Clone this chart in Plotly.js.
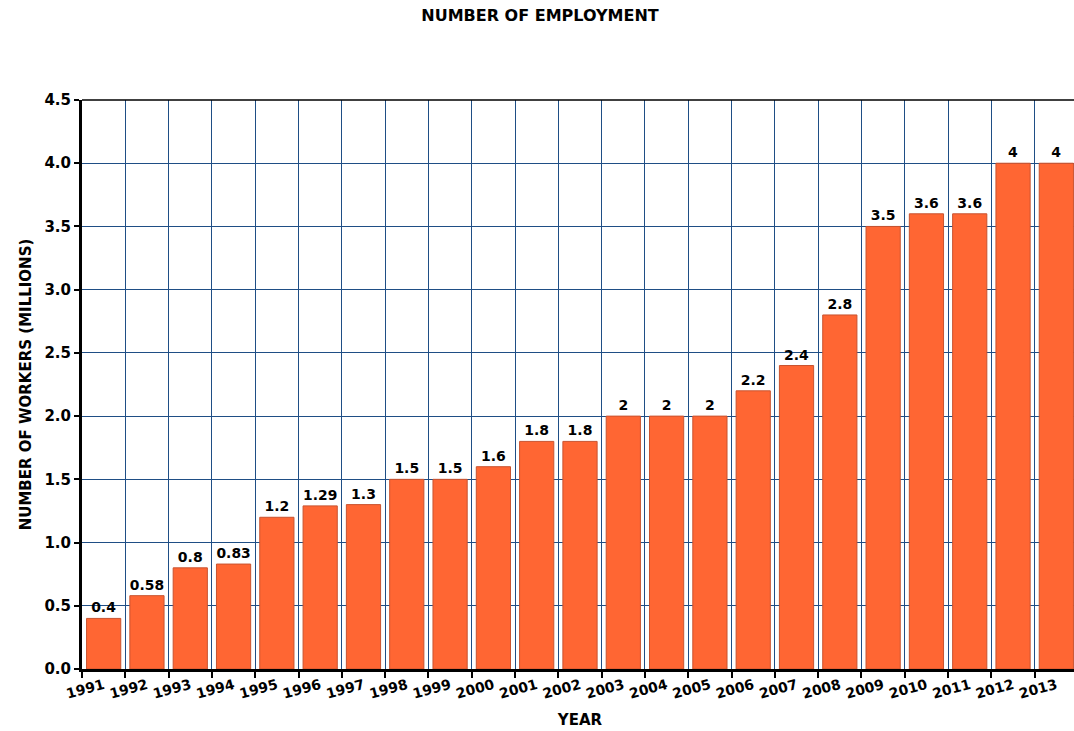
<!DOCTYPE html>
<html>
<head>
<meta charset="utf-8">
<script src="https://cdn.plot.ly/plotly-3.0.1.min.js"></script>
<style>
html,body{margin:0;padding:0;overflow:hidden;background:#fff;}
#chart{width:1080px;height:731px;}
</style>
</head>
<body>
<div id="chart"></div>
<script>
const years = ["1991","1992","1993","1994","1995","1996","1997","1998","1999","2000","2001","2002","2003","2004","2005","2006","2007","2008","2009","2010","2011","2012","2013"];
const workers = [0.4,0.58,0.8,0.83,1.2,1.29,1.3,1.5,1.5,1.6,1.8,1.8,2,2,2,2.2,2.4,2.8,3.5,3.6,3.6,4,4];
const yTicks = [0,0.5,1,1.5,2,2.5,3,3.5,4,4.5];
const yTickText = ["0.0","0.5","1.0","1.5","2.0","2.5","3.0","3.5","4.0","4.5"];

const fam = '"DejaVu Sans", Verdana, sans-serif';
const trace = {
  type: 'bar',
  x: years,
  y: workers,
  text: workers.map(v => String(v)),
  textposition: 'outside',
  cliponaxis: false,
  textfont: {family: fam, size: 14, color: '#000', weight: 'bold'},
  marker: {color: '#FF6633', line: {color: '#C9532F', width: 1}},
  hoverinfo: 'x+y'
};
const layout = {
  width: 1080, height: 731,
  margin: {l: 82, r: 2, t: 100, b: 62},
  paper_bgcolor: '#fff', plot_bgcolor: '#fff',
  bargap: 0.21,
  showlegend: false,
  title: {text: 'NUMBER OF EMPLOYMENT', x: 0.5, xanchor: 'center', y: 0.979, yanchor: 'middle',
          font: {family: fam, size: 16, color: '#000', weight: 'bold'}},
  xaxis: {
    type: 'category',
    tickson: 'boundaries',
    ticks: 'outside', ticklen: 6, tickwidth: 2, tickcolor: '#000',
    tickangle: -15,
    tickfont: {family: fam, size: 14, color: '#000', weight: 'bold'},
    showgrid: true, gridcolor: '#1F4E85', gridwidth: 1,
    showline: true, linecolor: '#000', linewidth: 3,
    mirror: false,
    title: {text: 'YEAR', standoff: 14, font: {family: fam, size: 15, color: '#000', weight: 'bold'}}
  },
  yaxis: {
    range: [0, 4.5],
    tickvals: yTicks, ticktext: yTickText,
    ticks: 'outside', ticklen: 5, tickwidth: 2, tickcolor: '#000',
    tickfont: {family: fam, size: 15, color: '#000', weight: 'bold'},
    showgrid: true, gridcolor: '#1F4E85', gridwidth: 1,
    showline: true, linecolor: '#000', linewidth: 3,
    zeroline: false,
    title: {text: 'NUMBER OF WORKERS (MILLIONS)', standoff: 10, font: {family: fam, size: 15, color: '#000', weight: 'bold'}}
  },
  shapes: [
    {type: 'line', xref: 'paper', yref: 'paper', x0: 0, x1: 1, y0: 1, y1: 1, line: {color: '#000', width: 1.5}}
  ]
};
Plotly.newPlot('chart', [trace], layout, {displayModeBar: false, staticPlot: true});
</script>
</body>
</html>
